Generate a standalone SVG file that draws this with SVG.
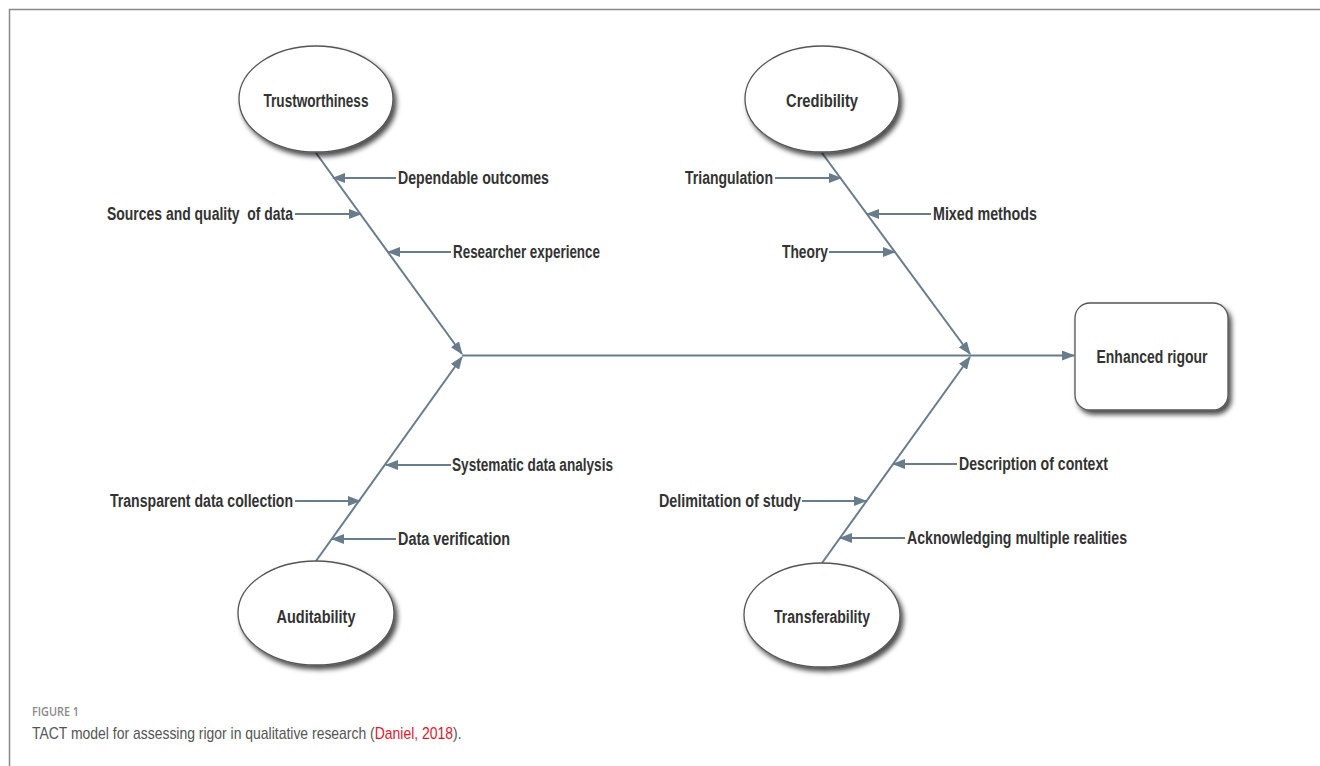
<svg xmlns="http://www.w3.org/2000/svg" width="1320" height="766" viewBox="0 0 1320 766">
<defs>
<marker id="ah" viewBox="0 0 13 10" markerWidth="13" markerHeight="10" refX="12" refY="5" orient="auto" markerUnits="userSpaceOnUse">
<path d="M0,0 L13,5 L0,10 z" fill="#687c8c"/>
</marker>
<filter id="sh" x="-20%" y="-20%" width="150%" height="160%">
<feDropShadow dx="3" dy="4" stdDeviation="2.5" flood-color="#000" flood-opacity="0.7"/>
</filter>
<style>
.n{fill:#fff;stroke:#555;stroke-width:1.3;filter:url(#sh)}
.t{font-family:"Liberation Sans",Arial,sans-serif;font-weight:bold;font-size:18px;fill:#333}
.c{stroke:#687c8c;stroke-width:2;fill:none;marker-end:url(#ah)}
</style>
</defs>
<rect width="1320" height="766" fill="#fff"/>
<path d="M9.5,766 L9.5,9.5 L1320,9.5" fill="none" stroke="#888" stroke-width="1.5"/>

<g id="connectors">
<line class="c" x1="316" y1="153" x2="462" y2="354"/>
<line class="c" x1="316" y1="561" x2="462" y2="357"/>
<line class="c" x1="822" y1="153" x2="970" y2="354"/>
<line class="c" x1="822" y1="563" x2="970" y2="357"/>
<line class="c" x1="462" y1="355.5" x2="1074" y2="355.5"/>
<line class="c" x1="396" y1="178" x2="333" y2="178"/>
<line class="c" x1="295" y1="214" x2="361" y2="214"/>
<line class="c" x1="451" y1="252" x2="388" y2="252"/>
<line class="c" x1="775" y1="178" x2="841" y2="178"/>
<line class="c" x1="931" y1="214" x2="867" y2="214"/>
<line class="c" x1="829" y1="252" x2="895" y2="252"/>
<line class="c" x1="451" y1="465" x2="386" y2="465"/>
<line class="c" x1="295" y1="501" x2="360" y2="501"/>
<line class="c" x1="396" y1="539" x2="332" y2="539"/>
<line class="c" x1="957" y1="464" x2="893" y2="464"/>
<line class="c" x1="802" y1="501" x2="866" y2="501"/>
<line class="c" x1="905" y1="538" x2="840" y2="538"/>
</g>

<g id="trustworthiness"><ellipse class="n" cx="316" cy="99" rx="77" ry="53"/><text class="t" x="316" y="107" text-anchor="middle" textLength="105" lengthAdjust="spacingAndGlyphs">Trustworthiness</text></g>
<g id="credibility"><ellipse class="n" cx="822" cy="99" rx="77" ry="53"/><text class="t" x="822" y="107" text-anchor="middle" textLength="72" lengthAdjust="spacingAndGlyphs">Credibility</text></g>
<g id="auditability"><ellipse class="n" cx="316" cy="613" rx="78" ry="52"/><text class="t" x="316" y="623" text-anchor="middle" textLength="79" lengthAdjust="spacingAndGlyphs">Auditability</text></g>
<g id="transferability"><ellipse class="n" cx="822" cy="615" rx="78" ry="52"/><text class="t" x="822" y="623" text-anchor="middle" textLength="96" lengthAdjust="spacingAndGlyphs">Transferability</text></g>
<g id="enhanced-rigour"><rect class="n" x="1075" y="303" width="153" height="107" rx="15"/><text class="t" x="1152" y="363" text-anchor="middle" textLength="111" lengthAdjust="spacingAndGlyphs">Enhanced rigour</text></g>

<g id="dependable-outcomes"><text class="t" x="398" y="184" textLength="151" lengthAdjust="spacingAndGlyphs">Dependable outcomes</text></g>
<g id="sources-quality"><text class="t" x="107" y="220" textLength="186" lengthAdjust="spacingAndGlyphs" xml:space="preserve">Sources and quality  of data</text></g>
<g id="researcher-experience"><text class="t" x="453" y="258" textLength="147" lengthAdjust="spacingAndGlyphs">Researcher experience</text></g>
<g id="triangulation"><text class="t" x="685" y="184" textLength="88" lengthAdjust="spacingAndGlyphs">Triangulation</text></g>
<g id="mixed-methods"><text class="t" x="933" y="220" textLength="104" lengthAdjust="spacingAndGlyphs">Mixed methods</text></g>
<g id="theory"><text class="t" x="782" y="258" textLength="46" lengthAdjust="spacingAndGlyphs">Theory</text></g>
<g id="systematic-analysis"><text class="t" x="452" y="471" textLength="161" lengthAdjust="spacingAndGlyphs">Systematic data analysis</text></g>
<g id="transparent-collection"><text class="t" x="110" y="507" textLength="183" lengthAdjust="spacingAndGlyphs">Transparent data collection</text></g>
<g id="data-verification"><text class="t" x="398" y="545" textLength="112" lengthAdjust="spacingAndGlyphs">Data verification</text></g>
<g id="description-context"><text class="t" x="959" y="470" textLength="149" lengthAdjust="spacingAndGlyphs">Description of context</text></g>
<g id="delimitation-study"><text class="t" x="659" y="507" textLength="142" lengthAdjust="spacingAndGlyphs">Delimitation of study</text></g>
<g id="acknowledging-realities"><text class="t" x="907" y="544" textLength="220" lengthAdjust="spacingAndGlyphs">Acknowledging multiple realities</text></g>

<g id="caption">
<text x="32" y="716" font-family="'Open Sans','Liberation Sans',sans-serif" font-size="12" font-weight="600" fill="#8a8a8a" textLength="47" lengthAdjust="spacingAndGlyphs">FIGURE 1</text>
<text transform="translate(32,739) scale(0.872,1)" x="0" y="0" font-family="'Liberation Sans',Arial,sans-serif" font-size="16" fill="#555">TACT model for assessing rigor in qualitative research (<tspan fill="#e0182d">Daniel, 2018</tspan>).</text>
</g>
</svg>
